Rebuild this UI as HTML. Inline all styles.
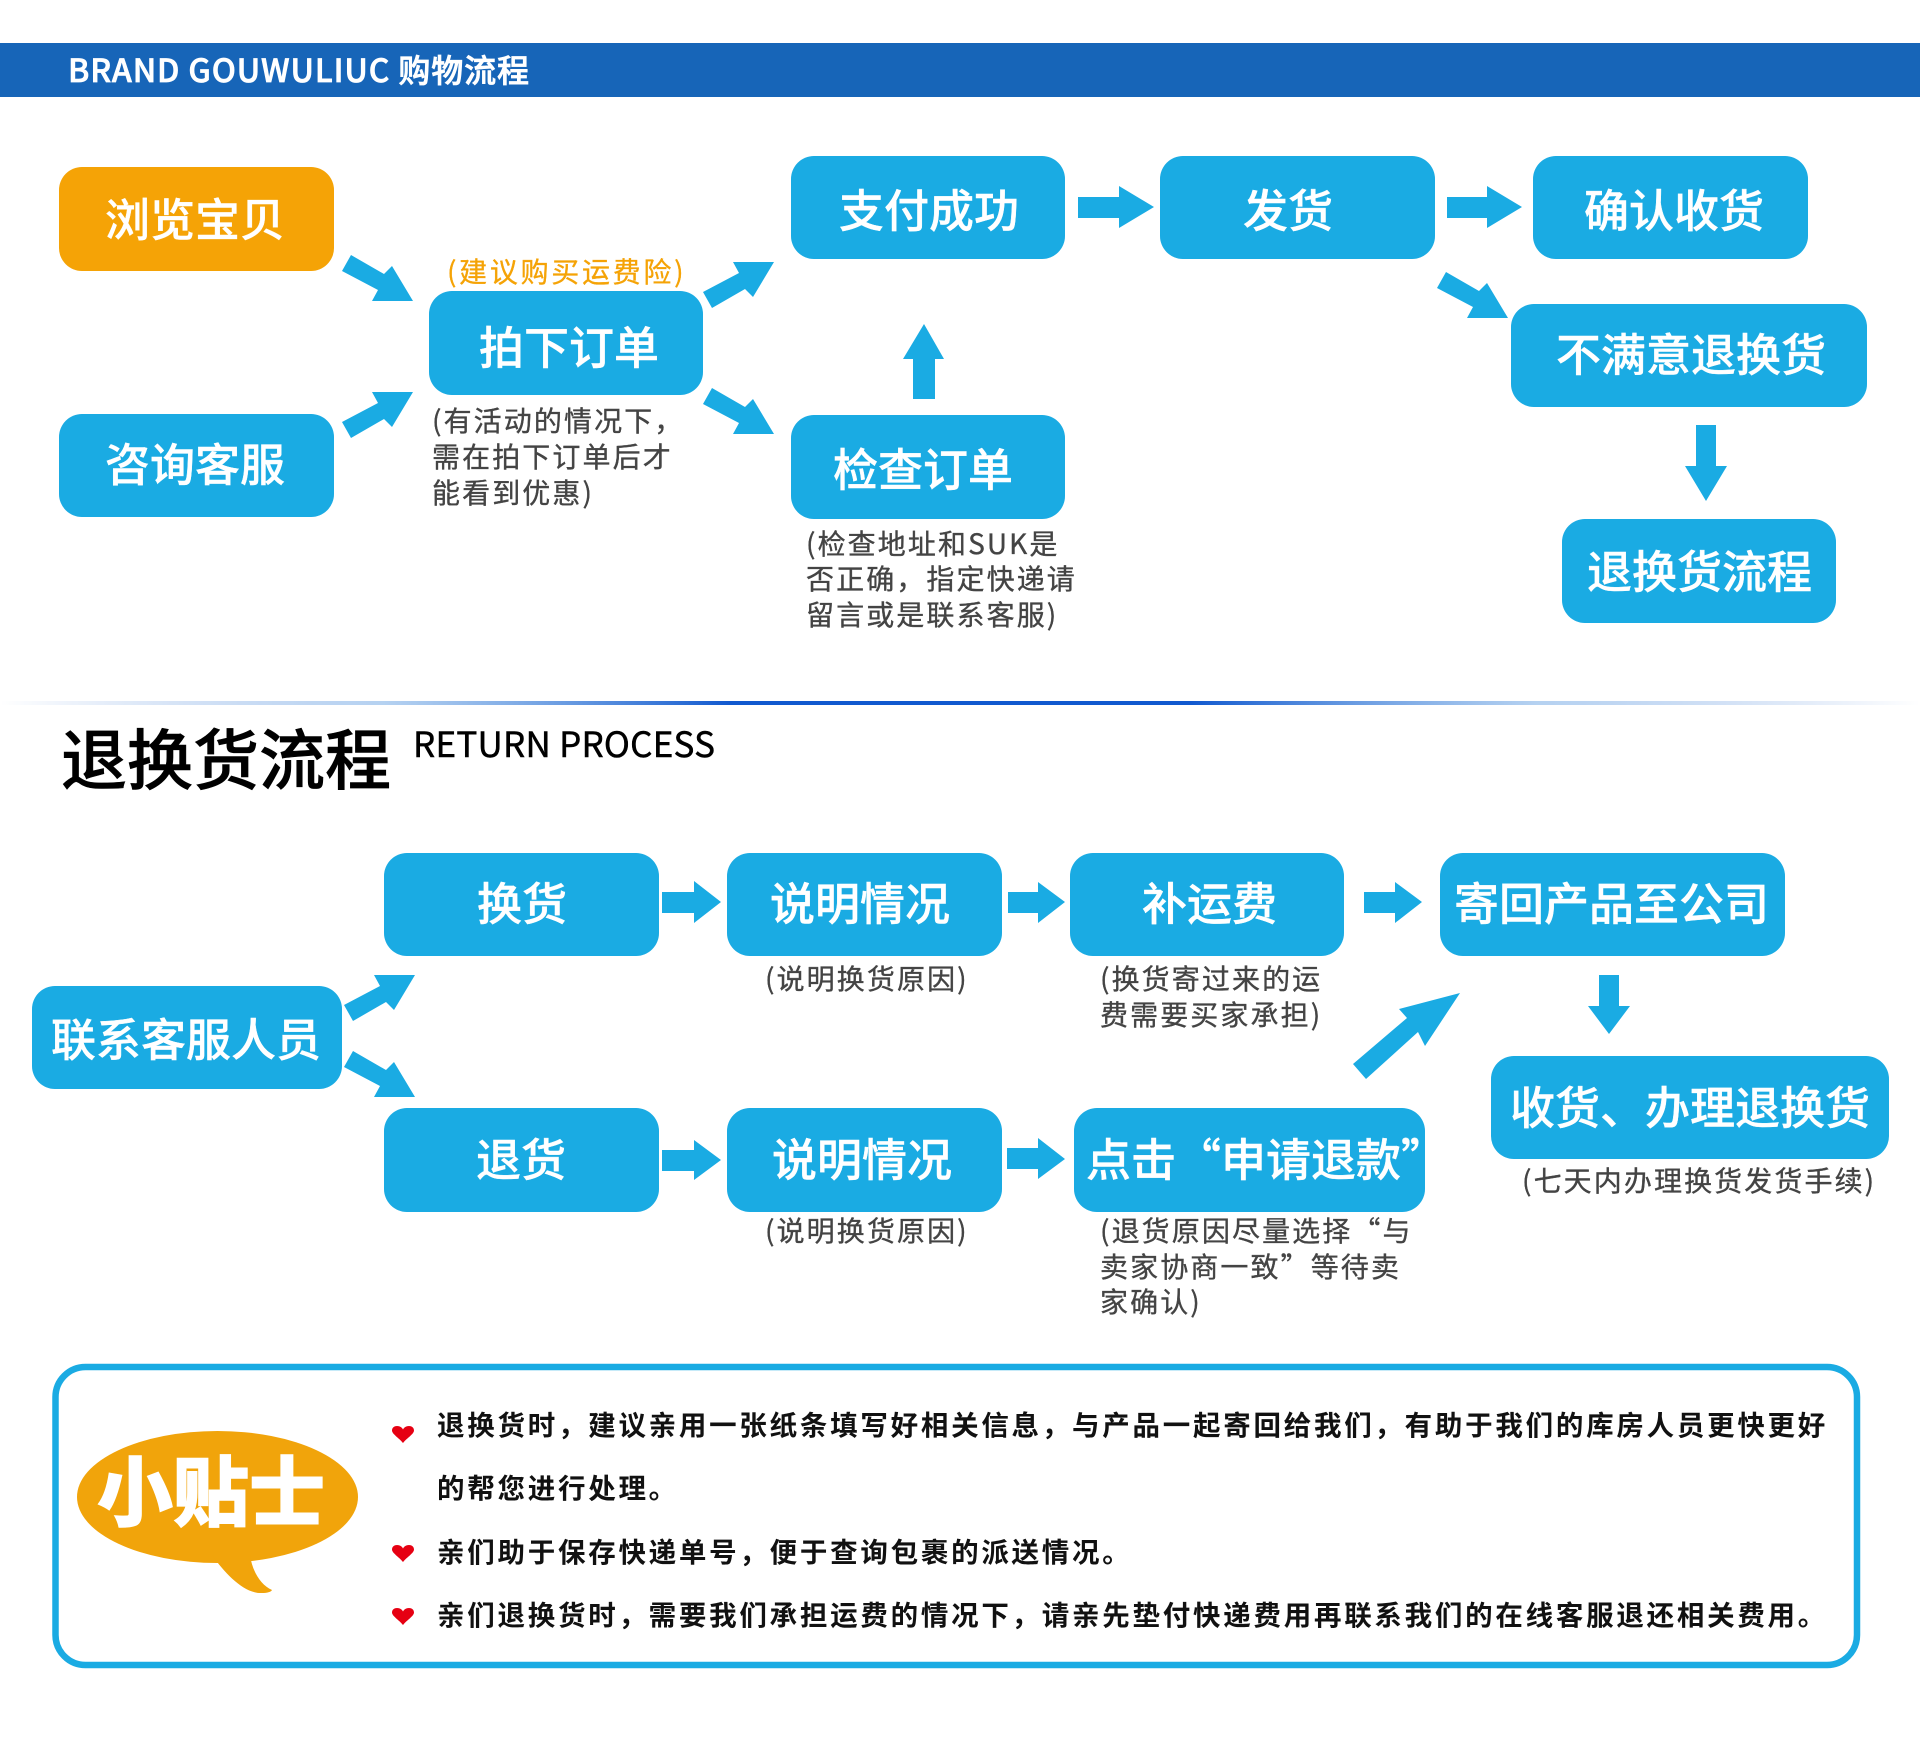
<!DOCTYPE html>
<html><head><meta charset="utf-8"><style>
html,body{margin:0;padding:0;background:#fff}
svg{display:block}
text{font-family:"Noto Sans CJK SC","Liberation Sans",sans-serif}
.b{font-size:45px;font-weight:500;fill:#fff;stroke:#fff;stroke-width:.4px}
.n{font-size:28px;fill:#444;stroke:#444;stroke-width:.35px;letter-spacing:2.1px}
.t{font-size:27.500px;font-weight:700;fill:#111;letter-spacing:2.740px}
.box{fill:#1aabe3}
.ar{fill:#1aabe3}
</style></head><body>
<svg width="1920" height="1751" viewBox="0 0 1920 1751" xmlns="http://www.w3.org/2000/svg">
<defs>
<linearGradient id="g" x1="0" x2="1" y1="0" y2="0">
<stop offset="0" stop-color="#1a5fcc" stop-opacity="0"/><stop offset=".2" stop-color="#5b9ae0" stop-opacity=".45"/><stop offset=".38" stop-color="#1159cf"/><stop offset=".62" stop-color="#1159cf"/><stop offset=".8" stop-color="#5b9ae0" stop-opacity=".45"/><stop offset="1" stop-color="#1a5fcc" stop-opacity="0"/>
</linearGradient>
<polygon id="dr" points="9,0 42,19 50,11 71,46 30,46 36,35 0,16"/>
<polygon id="ur" points="9,46 42,27 50,35 71,0 30,0 36,11 0,30"/>
<path id="h" d="M11 17C7 12 0 8 0 4.500C0 1.500 2.500 0 5 0C8 0 10 1.500 11 3.500C12 1.500 14 0 17 0C19.500 0 22 1.500 22 4.500C22 8 15 12 11 17Z"/>
</defs>
<rect x="0" y="43" width="1920" height="54" fill="#1765b8"/>
<text x="68" y="82" font-size="32" font-weight="500" fill="#fff" stroke="#fff" stroke-width=".7" textLength="461">BRAND GOUWULIUC 购物流程</text>

<rect x="59" y="167" width="275" height="104" rx="23" fill="#f5a306"/>
<rect class="box" x="429" y="291" width="274" height="104" rx="23"/>
<rect class="box" x="59" y="414" width="275" height="103" rx="23"/>
<rect class="box" x="791" y="156" width="274" height="103" rx="23"/>
<rect class="box" x="791" y="415" width="274" height="104" rx="23"/>
<rect class="box" x="1160" y="156" width="275" height="103" rx="23"/>
<rect class="box" x="1533" y="156" width="275" height="103" rx="23"/>
<rect class="box" x="1511" y="304" width="356" height="103" rx="23"/>
<rect class="box" x="1562" y="519" width="274" height="104" rx="23"/>

<use href="#dr" class="ar" x="342" y="255"/>
<use href="#dr" class="ar" x="703" y="388"/>
<use href="#dr" class="ar" x="1437" y="272"/>
<use href="#ur" class="ar" x="342" y="392"/>
<use href="#ur" class="ar" x="703" y="262"/>
<polygon class="ar" points="1078,197 1119,197 1119,186 1154,207 1119,228 1119,218 1078,218"/>
<polygon class="ar" points="1447,197 1487,197 1487,186 1522,207 1487,228 1487,218 1447,218"/>
<polygon class="ar" points="924,324 944,359 935,359 935,399 913,399 913,359 903,359"/>
<polygon class="ar" points="1696,425 1716,425 1716,466 1727,466 1706,501 1685,466 1696,466"/>

<text class="b" x="105" y="236">浏览宝贝</text>
<text class="b" x="479" y="364">拍下订单</text>
<text class="b" x="105" y="481">咨询客服</text>
<text class="b" x="839" y="227">支付成功</text>
<text class="b" x="833" y="486">检查订单</text>
<text class="b" x="1243" y="227">发货</text>
<text class="b" x="1584" y="227">确认收货</text>
<text class="b" x="1556" y="371">不满意退换货</text>
<text class="b" x="1587" y="588">退换货流程</text>

<text x="447" y="282" font-size="28" fill="#f5a306" stroke="#f5a306" stroke-width=".3" letter-spacing="2.700">(建议购买运费险)</text>
<text class="n" x="432" y="431">(有活动的情况下，</text>
<text class="n" x="432" y="467">需在拍下订单后才</text>
<text class="n" x="432" y="503">能看到优惠)</text>
<text class="n" x="806" y="554">(检查地址和SUK是</text>
<text class="n" x="806" y="589">否正确，指定快递请</text>
<text class="n" x="806" y="625">留言或是联系客服)</text>

<rect x="0" y="701" width="1920" height="4" fill="url(#g)"/>
<text x="61" y="784" font-size="66" font-weight="500" fill="#000" stroke="#000" stroke-width=".6">退换货流程</text>
<text x="413" y="757" font-size="35" fill="#000" stroke="#000" stroke-width=".5" textLength="302">RETURN PROCESS</text>

<rect class="box" x="384" y="853" width="275" height="103" rx="23"/>
<rect class="box" x="727" y="853" width="275" height="103" rx="23"/>
<rect class="box" x="1070" y="853" width="274" height="103" rx="23"/>
<rect class="box" x="1440" y="853" width="345" height="103" rx="23"/>
<rect class="box" x="32" y="986" width="310" height="103" rx="23"/>
<rect class="box" x="384" y="1108" width="275" height="104" rx="23"/>
<rect class="box" x="727" y="1108" width="275" height="104" rx="23"/>
<rect class="box" x="1074" y="1108" width="351" height="104" rx="23"/>
<rect class="box" x="1491" y="1056" width="398" height="103" rx="23"/>

<use href="#ur" class="ar" x="344" y="975"/>
<use href="#dr" class="ar" x="344" y="1051"/>
<polygon class="ar" points="662,892 694,892 694,881 721,902 694,923 694,913 662,913"/>
<polygon class="ar" points="662,1150 694,1150 694,1140 721,1160 694,1180 694,1171 662,1171"/>
<polygon class="ar" points="1008,892 1038,892 1038,882 1065,902 1038,923 1038,913 1008,913"/>
<polygon class="ar" points="1364,892 1395,892 1395,882 1422,902 1395,923 1395,913 1364,913"/>
<polygon class="ar" points="1007,1148 1038,1148 1038,1138 1065,1159 1038,1179 1038,1169 1007,1169"/>
<polygon class="ar" points="1353,1064 1407,1018 1399,1009 1460,993 1425,1046 1418,1032 1366,1079"/>
<polygon class="ar" points="1599,975 1619,975 1619,1006 1630,1006 1609,1034 1588,1006 1599,1006"/>

<text class="b" x="477" y="920">换货</text>
<text class="b" x="770" y="920">说明情况</text>
<text class="b" x="1142" y="920">补运费</text>
<text class="b" x="1454" y="920">寄回产品至公司</text>
<text class="b" x="51" y="1056">联系客服人员</text>
<text class="b" x="476" y="1176">退货</text>
<text class="b" x="772" y="1176">说明情况</text>
<text class="b" x="1086" y="1176">点击“申请退款”</text>
<text class="b" x="1510" y="1124">收货、办理退换货</text>

<text class="n" x="765" y="989">(说明换货原因)</text>
<text class="n" x="765" y="1241">(说明换货原因)</text>
<text class="n" x="1100" y="989">(换货寄过来的运</text>
<text class="n" x="1100" y="1025">费需要买家承担)</text>
<text class="n" x="1100" y="1241">(退货原因尽量选择“与</text>
<text class="n" x="1100" y="1277">卖家协商一致”等待卖</text>
<text class="n" x="1100" y="1312">家确认)</text>
<text class="n" x="1522" y="1191">(七天内办理换货发货手续)</text>

<rect x="55.500" y="1367" width="1801.500" height="298" rx="30" fill="#fff" stroke="#1aabe3" stroke-width="6.500"/>
<ellipse cx="217.500" cy="1497" rx="140.500" ry="66" fill="#f1a40b"/>
<path d="M212 1555C226 1575 245 1594 262 1593C267 1593 271 1592 272 1590C260 1585 252 1570 250 1555Z" fill="#f1a40b"/>
<text x="97" y="1520" font-size="76" font-weight="900" fill="#fff" stroke="#fff" stroke-width="1">小贴士</text>

<use href="#h" x="392" y="1426" fill="#e60012"/>
<use href="#h" x="392" y="1545" fill="#e60012"/>
<use href="#h" x="392" y="1608" fill="#e60012"/>
<text class="t" x="437" y="1435">退换货时，建议亲用一张纸条填写好相关信息，与产品一起寄回给我们，有助于我们的库房人员更快更好</text>
<text class="t" x="437" y="1498">的帮您进行处理。</text>
<text class="t" x="437" y="1562">亲们助于保存快递单号，便于查询包裹的派送情况。</text>
<text class="t" x="437" y="1625">亲们退换货时，需要我们承担运费的情况下，请亲先垫付快递费用再联系我们的在线客服退还相关费用。</text>
</svg>
</body></html>
